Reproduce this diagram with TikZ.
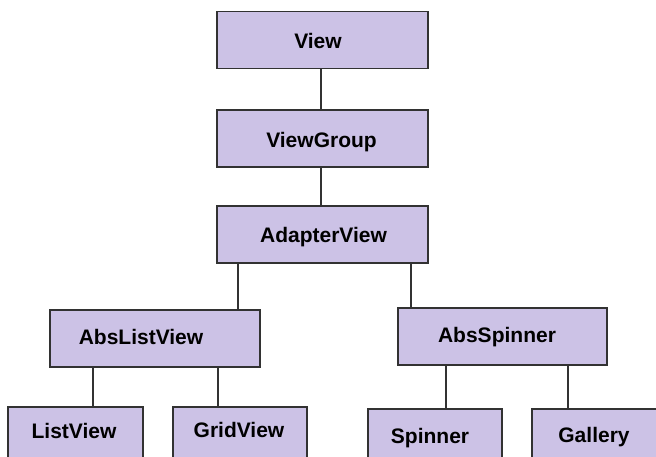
\documentclass[tikz,border=0pt]{standalone}
\usepackage{fontspec}
\setmainfont{Liberation Sans}
\definecolor{boxfill}{RGB}{204,194,230}
\definecolor{boxline}{RGB}{50,50,50}
\begin{document}
\begin{tikzpicture}[x=1pt,y=-1pt,
  box/.style={draw=boxline,fill=boxfill,line width=1.6pt,inner sep=0pt,minimum height=57pt},
  lbl/.style={font=\fontsize{21}{24}\selectfont\bfseries,anchor=base,inner sep=0pt,text=black},
  link/.style={draw=boxline,line width=1.6pt}]
\useasboundingbox (0,0) rectangle (656,456);
\clip (0,0) rectangle (656,456);
% boxes
\node[box,minimum width=211pt] (view) at (322.5,40) {};
\node[box,minimum width=211pt] (viewgroup) at (322.5,138.5) {};
\node[box,minimum width=211pt] (adapter) at (322.5,234.5) {};
\node[box,minimum width=210pt] (abslist) at (155,338.5) {};
\node[box,minimum width=209pt] (absspin) at (502.5,336.5) {};
\node[box,minimum width=135pt] (listview) at (75.5,435.5) {};
\node[box,minimum width=134pt] (gridview) at (240,435.5) {};
\node[box,minimum width=134pt] (spinner) at (435,437.5) {};
\node[box,minimum width=135pt] (gallery) at (599.5,437.5) {};
% labels
\node[lbl] (tview) at (318,48) {View};
\node[lbl] (tviewgroup) at (321.5,147) {ViewGroup};
\node[lbl] (tadapter) at (323.5,242.5) {AdapterView};
\node[lbl] (tabslist) at (141,344) {AbsListView};
\node[lbl] (tabsspin) at (497,342) {AbsSpinner};
\node[lbl] (tlistview) at (74,438) {ListView};
\node[lbl] (tgridview) at (239,437.5) {GridView};
\node[lbl] (tspinner) at (430,443) {Spinner};
\node[lbl] (tgallery) at (594,442.5) {Gallery};
% connector columns
\coordinate (c321) at (321,0);
\coordinate (c238) at (238,0);
\coordinate (c411) at (411,0);
\coordinate (c93) at (93,0);
\coordinate (c218) at (218,0);
\coordinate (c446) at (446,0);
\coordinate (c568) at (568,0);
% connectors
\draw[link] (view.south -| c321) -- (viewgroup.north -| c321);
\draw[link] (viewgroup.south -| c321) -- (adapter.north -| c321);
\draw[link] (adapter.south -| c238) -- (abslist.north -| c238);
\draw[link] (adapter.south -| c411) -- (absspin.north -| c411);
\draw[link] (abslist.south -| c93) -- (listview.north -| c93);
\draw[link] (abslist.south -| c218) -- (gridview.north -| c218);
\draw[link] (absspin.south -| c446) -- (spinner.north -| c446);
\draw[link] (absspin.south -| c568) -- (gallery.north -| c568);
\end{tikzpicture}
\end{document}
